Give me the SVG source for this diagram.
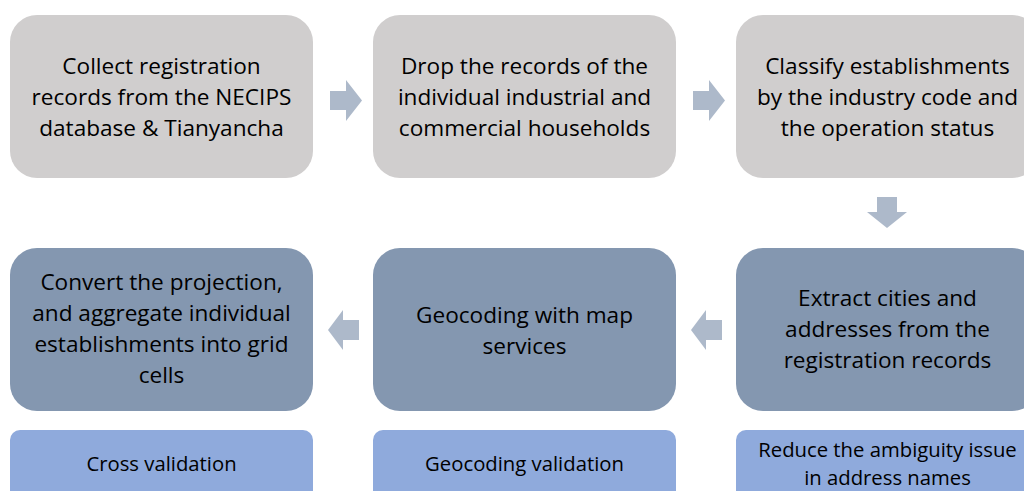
<svg xmlns="http://www.w3.org/2000/svg" width="1024" height="491" viewBox="0 0 1024 491">
<style>
.t{font-family:"Open Sans","Liberation Sans",sans-serif;font-size:22.6px;fill:#000;text-anchor:middle}
.v{font-family:"Open Sans","Liberation Sans",sans-serif;font-size:20.3px;fill:#000;text-anchor:middle}
.g{fill:#d0cece}
.d{fill:#8497b0}
.b{fill:#8faadc}
.a{fill:#adb9ca}
</style>
<rect width="1024" height="491" fill="#fff"/>
<g id="connectors">
<polygon class="a" points="330,91 346,91 346,80 362,100.5 346,121 346,110 330,110"/>
<polygon class="a" points="693,91 709,91 709,80 725,100.5 709,121 709,110 693,110"/>
<polygon class="a" points="877,197 897,197 897,212 907,212 887,228 867,212 877,212"/>
<polygon class="a" points="722,320 706,320 706,310 691,330 706,350 706,340 722,340"/>
<polygon class="a" points="359,320 343,320 343,310 328,330 343,350 343,340 359,340"/>
</g>
<g id="n1">
<rect class="g" x="10" y="15" width="303" height="163" rx="27"/>
<text class="t" x="161.5" y="74">Collect registration</text>
<text class="t" x="161.5" y="105">records from the NECIPS</text>
<text class="t" x="161.5" y="136">database &amp; Tianyancha</text>
</g>
<g id="n2">
<rect class="g" x="373" y="15" width="303" height="163" rx="27"/>
<text class="t" x="524.5" y="74">Drop the records of the</text>
<text class="t" x="524.5" y="105">individual industrial and</text>
<text class="t" x="524.5" y="136">commercial households</text>
</g>
<g id="n3">
<rect class="g" x="736" y="15" width="303" height="163" rx="27"/>
<text class="t" x="887.5" y="74">Classify establishments</text>
<text class="t" x="887.5" y="105">by the industry code and</text>
<text class="t" x="887.5" y="136">the operation status</text>
</g>
<g id="n4">
<rect class="d" x="736" y="248" width="303" height="163" rx="27"/>
<text class="t" x="887.5" y="306">Extract cities and</text>
<text class="t" x="887.5" y="337">addresses from the</text>
<text class="t" x="887.5" y="368">registration records</text>
</g>
<g id="n5">
<rect class="d" x="373" y="248" width="303" height="163" rx="27"/>
<text class="t" x="524.5" y="323">Geocoding with map</text>
<text class="t" x="524.5" y="354">services</text>
</g>
<g id="n6">
<rect class="d" x="10" y="248" width="303" height="163" rx="27"/>
<text class="t" x="161.5" y="290">Convert the projection,</text>
<text class="t" x="161.5" y="321">and aggregate individual</text>
<text class="t" x="161.5" y="352">establishments into grid</text>
<text class="t" x="161.5" y="383">cells</text>
</g>
<g id="v1">
<rect class="b" x="10" y="430" width="303" height="80" rx="10"/>
<text class="v" x="161.5" y="471">Cross validation</text>
</g>
<g id="v2">
<rect class="b" x="373" y="430" width="303" height="80" rx="10"/>
<text class="v" x="524.5" y="471">Geocoding validation</text>
</g>
<g id="v3">
<rect class="b" x="736" y="430" width="303" height="80" rx="10"/>
<text class="v" x="887.5" y="457">Reduce the ambiguity issue</text>
<text class="v" x="887.5" y="485">in address names</text>
</g>
</svg>
